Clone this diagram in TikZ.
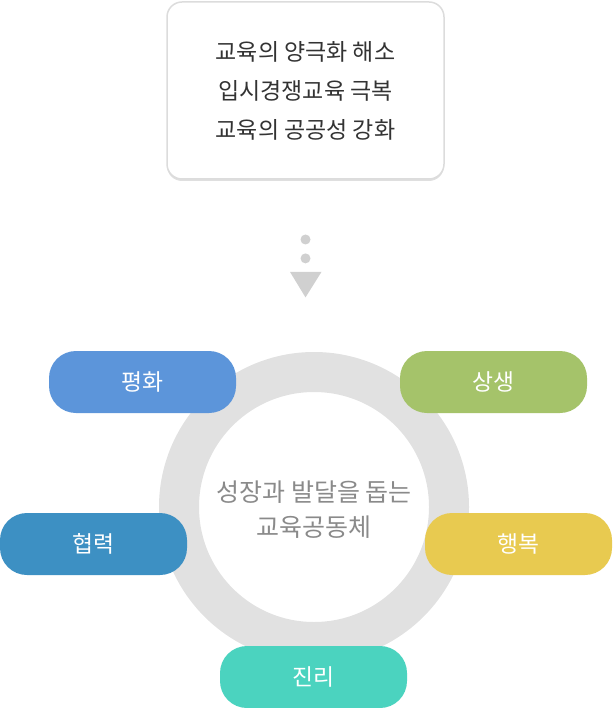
\documentclass[tikz,border=0pt]{standalone}
\usepackage{fontspec}
\setmainfont{Noto Sans CJK KR}
\usetikzlibrary{positioning,calc,shadows}

\definecolor{textdark}{HTML}{333333}
\definecolor{textgray}{HTML}{8A8A8A}
\definecolor{boxline}{HTML}{DCDCDC}
\definecolor{dotgray}{HTML}{D0D0D0}
\definecolor{ringgray}{HTML}{E1E1E1}
\definecolor{peaceblue}{HTML}{5C95DA}
\definecolor{livegreen}{HTML}{A5C36A}
\definecolor{coopblue}{HTML}{3D90C3}
\definecolor{happyyellow}{HTML}{E8CA50}
\definecolor{truthteal}{HTML}{4BD3BF}

\begin{document}
\begin{tikzpicture}[
	x = 1pt, y = -1pt,
	node distance = 6pt,
	every node/.style = {
		inner sep = 0pt
	},
	goalbox/.style = {
		draw = boxline,
		line width = 1.5pt,
		fill = white,
		rounded corners = 15pt,
		minimum width = 277pt,
		minimum height = 177pt,
		align = center,
		text = textdark,
		font = \fontsize{23}{39}\selectfont,
		drop shadow = {shadow xshift = 0pt, shadow yshift = -2pt, opacity = .25, fill = gray}
	},
	dot/.style = {
		circle,
		fill = dotgray,
		minimum size = 10pt
	},
	ring/.style = {
		circle,
		draw = ringgray,
		line width = 40pt,
		minimum size = 270pt
	},
	value/.style = {
		rounded corners = 27pt,
		minimum width = 187pt,
		minimum height = 62pt,
		text = white,
		font = \fontsize{22.8}{26}\selectfont
	}
	]
	
	\useasboundingbox (0,0) rectangle (612,708);
	
	\node (goal_box) [goalbox] at (305.5,90.5) {교육의 양극화 해소\\입시경쟁교육 극복\\교육의 공공성 강화};
	
	\node (dot_1) [dot] at (305.5,239.5) {};
	\node (dot_2) [dot, below = 8.5pt of dot_1] {};
	\fill[dotgray] ($(dot_2)+(-15.5,13.5)$) -- ($(dot_2)+(16,13.5)$) -- ($(dot_2)+(0,39)$) -- cycle;
	
	\node (ring) [ring] at (314,507) {};
	\node (ring_text) [text = textgray, align = center, font = \fontsize{25}{35}\selectfont, yshift = -2.5pt] at (ring) {성장과 발달을 돕는\\교육공동체};
	
	\node (value_peace) [value, fill = peaceblue] at (142.5,382) {평화};
	\node (value_live) [value, fill = livegreen] at (493.5,382) {상생};
	\node (value_coop) [value, fill = coopblue] at (93.5,544) {협력};
	\node (value_happy) [value, fill = happyyellow] at (518.5,544) {행복};
	\node (value_truth) [value, fill = truthteal] at (313.5,677) {진리};
	
\end{tikzpicture}
\end{document}
